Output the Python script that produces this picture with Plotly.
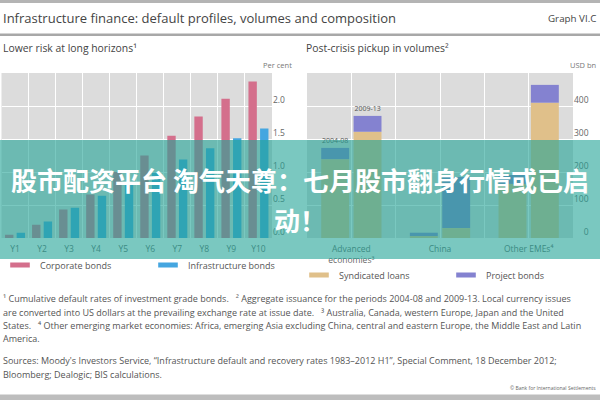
import plotly.graph_objects as go

# ---------------- data ----------------
years = ["Y1", "Y2", "Y3", "Y4", "Y5", "Y6", "Y7", "Y8", "Y9", "Y10"]
corporate_bonds = [0.05, 0.20, 0.43, 0.66, 1.00, 1.25, 1.55, 1.84, 2.11, 2.37]
infrastructure_bonds = [0.08, 0.25, 0.46, 0.64, 0.84, 0.99, 1.19, 1.36, 1.51, 1.66]
left_ticks = [0.0, 0.5, 1.0, 1.5, 2.0]

regions = ["Advanced<br>economies³", "China", "Other EMEs⁴"]
periods = ["2004-08", "2009-13"]
syndicated_0408 = [239, 6, 164]
project_0408 = [34, 10, 27]
syndicated_0913 = [322, 30, 410]
project_0913 = [48, 155, 54]
right_ticks = [0, 100, 200, 300, 400]

# ---------------- style ----------------
PINK = "#d46f8c"
BLUE = "#45a6e0"
TAN = "#e0c08a"
PURPLE = "#8482d0"
BG = "#dcdcdc"
TXT = "#555555"
FONT = "Open Sans"

xl = list(range(1, len(years) + 1))
xr = list(range(len(regions)))

fig = go.Figure()


def swatch(name, color, legend, xa, ya):
    # legend key only (wide, flat swatch like the original)
    return go.Scatter(x=[None], y=[None], mode="markers", name=name,
                      legend=legend, xaxis=xa, yaxis=ya, hoverinfo="skip",
                      marker=dict(symbol="line-ew", size=14,
                                  line=dict(width=5, color=color)))


# left panel
fig.add_trace(go.Bar(x=xl, y=corporate_bonds, width=0.31, offset=-0.37,
                     marker=dict(color=PINK, line=dict(width=0)),
                     name="Corporate bonds", showlegend=False,
                     xaxis="x", yaxis="y"))
fig.add_trace(go.Bar(x=xl, y=infrastructure_bonds, width=0.31, offset=0.06,
                     marker=dict(color=BLUE, line=dict(width=0)),
                     name="Infrastructure bonds", showlegend=False,
                     xaxis="x", yaxis="y"))
fig.add_trace(swatch("Corporate bonds", PINK, "legend", "x", "y"))
fig.add_trace(swatch("Infrastructure bonds", BLUE, "legend", "x", "y"))

# right panel (stacked within each period, periods side by side)
lab0408 = [periods[0]] + [""] * (len(regions) - 1)
lab0913 = [periods[1]] + [""] * (len(regions) - 1)
W = 0.315
for synd, proj, off, lab in [
    (syndicated_0408, project_0408, -0.34, lab0408),
    (syndicated_0913, project_0913, 0.025, lab0913),
]:
    fig.add_trace(go.Bar(x=xr, y=synd, width=W, offset=off,
                         marker=dict(color=TAN, line=dict(width=0)),
                         name="Syndicated loans", showlegend=False,
                         xaxis="x2", yaxis="y2"))
    fig.add_trace(go.Bar(x=xr, y=proj, base=synd, width=W, offset=off,
                         marker=dict(color=PURPLE, line=dict(width=0)),
                         name="Project bonds", showlegend=False,
                         text=lab, textposition="outside", textangle=0,
                         constraintext="none", cliponaxis=False,
                         outsidetextfont=dict(size=7, color=TXT, family=FONT),
                         xaxis="x2", yaxis="y2"))
fig.add_trace(swatch("Syndicated loans", TAN, "legend2", "x2", "y2"))
fig.add_trace(swatch("Project bonds", PURPLE, "legend2", "x2", "y2"))

ydom = [(400 - 238) / 400, (400 - 73) / 400]
tickfont = dict(size=8.5, color="#666666", family=FONT)

fig.update_layout(
    width=600, height=400, autosize=False,
    margin=dict(l=0, r=0, t=0, b=0, autoexpand=False),
    paper_bgcolor="white", plot_bgcolor=BG,
    font=dict(family=FONT, color=TXT),
    barmode="overlay",
    xaxis=dict(domain=[0.0025, 0.4533], range=[0.5, 10.5], anchor="y",
               tickmode="array", tickvals=xl, ticktext=years,
               showgrid=False, zeroline=False, ticks="", tickfont=tickfont,
               ticklabelstandoff=4,
               minor=dict(tickmode="array",
                          tickvals=[v + 0.5 for v in xl[:-1]],
                          showgrid=True, gridcolor="white", gridwidth=1,
                          ticks="")),
    yaxis=dict(domain=ydom, range=[0, 2.5], anchor="x", side="right",
               tickmode="array", tickvals=left_ticks,
               ticktext=[f"{v:.1f}" for v in left_ticks],
               ticklabelposition="outside top",
               showgrid=True, gridcolor="white", gridwidth=1,
               zeroline=False, ticks="", tickfont=tickfont),
    xaxis2=dict(domain=[0.5117, 0.955], range=[-0.5, 2.5], anchor="y2",
                tickmode="array", tickvals=xr, ticktext=regions,
                showgrid=True, gridcolor="white", gridwidth=1,
                zeroline=False, ticks="", tickfont=tickfont,
                ticklabelstandoff=4,
                minor=dict(tickmode="array",
                           tickvals=[v + 0.5 for v in xr[:-1]],
                           showgrid=True, gridcolor="white", gridwidth=1,
                           ticks="")),
    yaxis2=dict(domain=ydom, range=[0, 500], anchor="x2", side="right",
                tickmode="array", tickvals=right_ticks,
                ticktext=[f"{v:>3}".replace(" ", "\u2007") for v in right_ticks],
                ticklabelposition="outside top",
                showgrid=True, gridcolor="white", gridwidth=1,
                zeroline=False, ticks="", tickfont=tickfont),
    legend=dict(orientation="h", x=0.0, xanchor="left",
                y=(400 - 265) / 400, yanchor="middle",
                entrywidth=103, entrywidthmode="pixels",
                font=dict(size=9, color=TXT, family=FONT),
                bgcolor="rgba(0,0,0,0)", traceorder="normal"),
    legend2=dict(orientation="h", x=299 / 600, xanchor="left",
                 y=(400 - 275) / 400, yanchor="middle",
                 entrywidth=102, entrywidthmode="pixels",
                 font=dict(size=9, color=TXT, family=FONT),
                 bgcolor="rgba(0,0,0,0)", traceorder="normal"),
    showlegend=True,
)


def py(p):
    return (400 - p) / 400


shapes = [
    dict(type="rect", xref="paper", yref="paper", x0=0, x1=1,
         y0=py(3), y1=py(0), fillcolor="#b4b4b4", line=dict(width=0)),
    dict(type="rect", xref="paper", yref="paper", x0=0, x1=1,
         y0=py(36), y1=py(33.5), fillcolor="#a8a8a8", line=dict(width=0)),
    dict(type="rect", xref="paper", yref="paper", x0=0, x1=1,
         y0=py(400), y1=py(394.5), fillcolor="#bdbdbd", line=dict(width=0)),
    # banner overlay
    dict(type="rect", xref="paper", yref="paper", x0=0, x1=1,
         y0=py(259), y1=py(140), fillcolor="rgba(33,163,150,0.6)",
         line=dict(width=0), layer="above"),
]
fig.update_layout(shapes=shapes)

ann = []


def txt(s, x, y, size, color=TXT, xanchor="left", family=FONT, **kw):
    ann.append(dict(text=s, xref="paper", yref="paper", x=x / 600, y=py(y),
                    xanchor=xanchor, yanchor="middle", showarrow=False,
                    font=dict(size=size, color=color, family=family), **kw))


txt("Infrastructure finance: default profiles, volumes and composition", 1, 18, 13, "#444444")
txt("Graph VI.C", 598, 18, 9.8, "#444444", xanchor="right")
txt("Lower risk at long horizons¹", 1, 48, 10.4, "#444444")
txt("Post-crisis pickup in volumes²", 304, 48, 10.4, "#444444")
txt("Per cent", 294, 65, 7.5, "#777777", xanchor="right")
txt("USD bn", 598, 65, 7.5, "#777777", xanchor="right")

sp = "\u00a0\u00a0\u00a0"
foot = [
    ("¹ Cumulative default rates of investment grade bonds." + sp +
     "² Aggregate issuance for the periods 2004-08 and 2009-13. Local currency issues", 298.5),
    ("are converted into US dollars at the prevailing exchange rate at issue date." + sp +
     "³ Australia, Canada, western Europe, Japan and the United", 312),
    ("States." + sp + "⁴ Other emerging market economies: Africa, emerging Asia excluding China, "
     "central and eastern Europe, the Middle East and Latin", 325.5),
    ("America.", 338.5),
    ("Sources: Moody's Investors Service, “Infrastructure default and recovery rates 1983–2012 H1”, "
     "Special Comment, 18 December 2012;", 360),
    ("Bloomberg; Dealogic; BIS calculations.", 374),
]
for s, y in foot:
    txt(s, 1, y, 9, "#555555")
txt("© Bank for International Settlements", 598, 388, 5, "#666666", xanchor="right")

# banner text
CJK = "Noto Sans CJK SC"
txt("<b>股市配资平台 淘气天尊：七月股市翻身行情或已启</b>", 300, 179.5, 26, "white",
    xanchor="center", family=CJK)
txt("<b>动！</b>", 300, 219, 26, "white", xanchor="center", family=CJK)

fig.update_layout(annotations=ann)

fig.write_html("out.html")
